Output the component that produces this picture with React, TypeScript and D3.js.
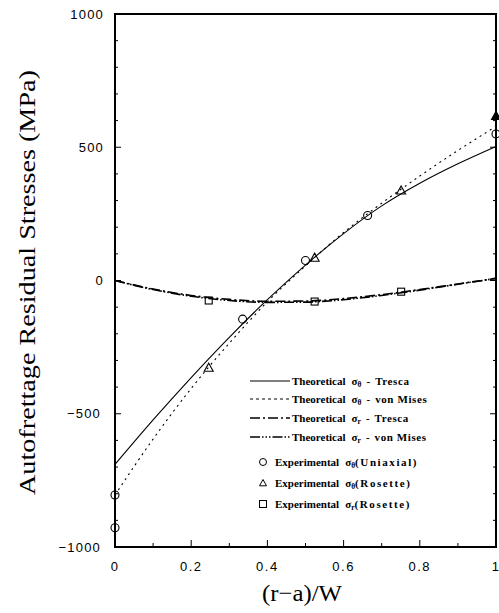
import React from "react";
import * as d3 from "d3";

const xGrid = [0, 0.1, 0.2, 0.3, 0.4, 0.5, 0.6, 0.7, 0.8, 0.9, 1.0];
const thetaTresca = [-690, -523, -364, -213, -72, 58, 176, 280, 365, 438, 503];
const thetaVonMises = [-805, -595, -405, -235, -80, 55, 180, 290, 392, 488, 578];
const radialTresca = [0, -32, -56, -71, -78, -77, -68, -53, -34, -13, 8];
const radialVonMises = [0, -34, -59, -75, -82, -81, -72, -56, -36, -14, 8];

const circleX = [0, 0, 0.335, 0.5, 0.663, 1.0];
const circleY = [-805, -928, -145, 75, 244, 550];
const triangleX = [0.246, 0.524, 0.751, 1.0];
const triangleY = [-327, 86, 338, 618];
const squareX = [0.246, 0.524, 0.751];
const squareY = [-75, -79, -42];

const xTicks = [0, 0.2, 0.4, 0.6, 0.8, 1];
const xTickLabels = ["0", "0.2", "0.4", "0.6", "0.8", "1"];
const yTicks = [-1000, -500, 0, 500, 1000];
const yTickLabels = ["\u22121000", "\u2212500", "0", "500", "1000"];

const W = 499, H = 613;
const L = 115, R = 496, T = 14, B = 547;

export default function App() {
  const x = d3.scaleLinear().domain([0, 1]).range([L, R]);
  const y = d3.scaleLinear().domain([-1000, 1000]).range([B, T]);
  const line = (vals: number[]) =>
    d3.line<number>().x((_, i) => x(xGrid[i])).y((v) => y(v)).curve(d3.curveMonotoneX)(vals) || "";

  const yMinor = d3.range(-1000, 1001, 100);
  const xMinor = d3.range(0, 1.0001, 0.1);

  const legendTheo = [
    { dash: "none", sub: "\u03B8", sym: "Tresca" },
    { dash: "3,3", sub: "\u03B8", sym: "von Mises" },
    { dash: "10,3,2,3", sub: "r", sym: "Tresca" },
    { dash: "10,2,1.5,2,1.5,2,1.5,2", sub: "r", sym: "von Mises" },
  ];
  const theoY = [381, 399, 418, 437];
  const expY = [462, 483, 504];

  const tri = (cx: number, cy: number, s = 4.5) =>
    `M${cx},${cy - s}L${cx + s},${cy + s * 0.8}L${cx - s},${cy + s * 0.8}Z`;

  return (
    <svg width={W} height={H} style={{ position: "absolute", left: 0, top: 0, background: "#fff" }}>
      <rect x={0} y={0} width={W} height={H} fill="#fff" />
      {/* curves */}
      <path d={line(thetaTresca)} fill="none" stroke="#000" strokeWidth={1.1} />
      <path d={line(thetaVonMises)} fill="none" stroke="#000" strokeWidth={1.1} strokeDasharray="2,4" />
      <path d={line(radialTresca)} fill="none" stroke="#000" strokeWidth={1.6} strokeDasharray="10,3,2,3" />
      <path d={line(radialVonMises)} fill="none" stroke="#000" strokeWidth={1.6} strokeDasharray="10,2,1.5,2,1.5,2" />

      {/* markers */}
      {circleX.map((cx, i) => (
        <circle key={"c" + i} cx={x(cx)} cy={y(circleY[i])} r={4} fill="none" stroke="#000" strokeWidth={1.1} />
      ))}
      {triangleX.map((tx, i) => (
        <path key={"t" + i} d={tri(x(tx), y(triangleY[i]))} fill={tx === 1 ? "#000" : "none"} stroke="#000" strokeWidth={1.1} />
      ))}
      {squareX.map((sx, i) => (
        <rect key={"s" + i} x={x(sx) - 3.5} y={y(squareY[i]) - 3.5} width={7} height={7} fill="none" stroke="#000" strokeWidth={1.1} />
      ))}

      {/* frame */}
      <rect x={L} y={T} width={R - L} height={B - T} fill="none" stroke="#000" strokeWidth={2} />

      {/* y ticks */}
      {yMinor.map((v, i) => (
        <g key={"ym" + i}>
          <line x1={L} x2={L + (v % 500 === 0 ? 6 : 3)} y1={y(v)} y2={y(v)} stroke="#000" strokeWidth={1} />
          <line x1={R} x2={R - (v % 500 === 0 ? 6 : 3)} y1={y(v)} y2={y(v)} stroke="#000" strokeWidth={1} />
        </g>
      ))}
      {xMinor.map((v, i) => (
        <line key={"xm" + i} x1={x(v)} x2={x(v)} y1={B} y2={B - (i % 2 === 0 ? 7 : 4)} stroke="#000" strokeWidth={1} />
      ))}

      {/* tick labels */}
      {yTicks.map((v, i) => (
        <text key={"yl" + i} x={v < 0 ? 101 : 104} y={y(v) + 4.5} textAnchor="end"
          fontFamily="'Liberation Sans', Arial, sans-serif" fontSize={13} letterSpacing={1.2} fill="#000">
          {yTickLabels[i]}
        </text>
      ))}
      {xTicks.map((v, i) => (
        <text key={"xl" + i} x={x(v)} y={571} textAnchor="middle"
          fontFamily="'Liberation Sans', Arial, sans-serif" fontSize={13} letterSpacing={1.5} fill="#000">
          {xTickLabels[i]}
        </text>
      ))}

      {/* axis titles */}
      <text transform={`translate(35,${(T + B) / 2 + 2}) rotate(-90)`} textAnchor="middle"
        fontFamily="'Liberation Serif', 'Times New Roman', serif" fontSize={24}
        textLength={425} lengthAdjust="spacingAndGlyphs" fill="#000">
        Autofrettage Residual Stresses (MPa)
      </text>
      <text x={302} y={601} textAnchor="middle"
        fontFamily="'Liberation Serif', 'Times New Roman', serif" fontSize={24}
        textLength={80} lengthAdjust="spacingAndGlyphs" fill="#000">
        (r{"\u2212"}a)/W
      </text>

      {/* legend */}
      <g fontFamily="'Liberation Serif', 'Times New Roman', serif" fontWeight="bold" fontSize={11} fill="#000">
        {legendTheo.map((d, i) => (
          <g key={"lt" + i}>
            <line x1={250} x2={290} y1={theoY[i]} y2={theoY[i]} stroke="#000"
              strokeWidth={i >= 2 ? 1.5 : 1} strokeDasharray={d.dash} />
            <text x={292} y={theoY[i] + 3.5}>
              Theoretical
              <tspan dx={6}>{"\u03C3"}</tspan>
              <tspan dy={2.5} fontSize={7.5}>{d.sub}</tspan>
              <tspan dy={-2.5} dx={5}>-</tspan>
              <tspan dx={5} letterSpacing={0.6}>{d.sym}</tspan>
            </text>
          </g>
        ))}
        <circle cx={263} cy={expY[0]} r={3.5} fill="none" stroke="#000" strokeWidth={1} />
        <path d={tri(263, expY[1], 3.5)} fill="none" stroke="#000" strokeWidth={1} />
        <rect x={259.5} y={expY[2] - 3.5} width={7} height={7} fill="none" stroke="#000" strokeWidth={1} />
        {[
          { sub: "\u03B8", tag: "(Uniaxial)" },
          { sub: "\u03B8", tag: "(Rosette)" },
          { sub: "r", tag: "(Rosette)" },
        ].map((d, i) => (
          <text key={"le" + i} x={275} y={expY[i] + 3.5}>
            Experimental
            <tspan dx={6}>{"\u03C3"}</tspan>
            <tspan dy={2.5} fontSize={7.5}>{d.sub}</tspan>
            <tspan dy={-2.5} letterSpacing={1.6}>{d.tag}</tspan>
          </text>
        ))}
      </g>
    </svg>
  );
}
